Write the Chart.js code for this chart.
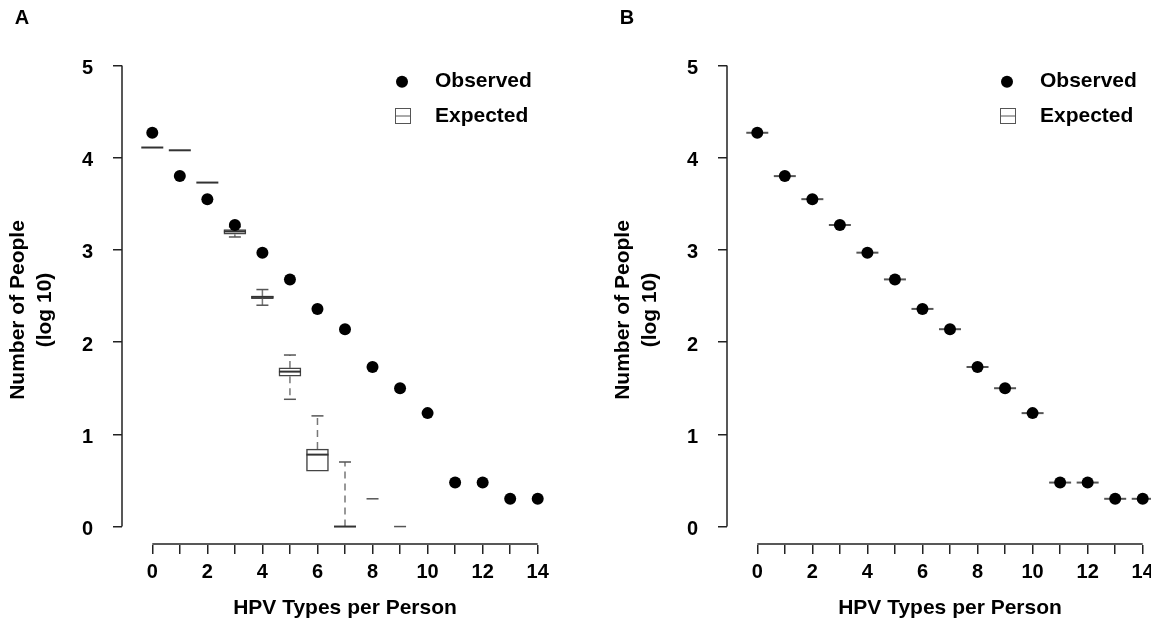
<!DOCTYPE html>
<html>
<head>
<meta charset="utf-8">
<script src="https://cdn.jsdelivr.net/npm/chart.js@4/dist/chart.umd.min.js"></script>
<style>
  body { margin: 0; background: #fff; }
  #wrap { position: relative; width: 1151px; height: 624px; overflow: hidden; }
  canvas { position: absolute; top: 0; }
  #panelA { left: 0; }
  #panelB { left: 605px; }
</style>
</head>
<body>
<div id="wrap">
  <canvas id="panelA" width="605" height="624"></canvas>
  <canvas id="panelB" width="605" height="624"></canvas>
</div>
<script>
// values (log10 of number of people)
const xTickValues = [0, 1, 2, 3, 4, 5, 6, 7, 8, 9, 10, 11, 12, 13, 14];
const yTickValues = [0, 1, 2, 3, 4, 5];
const hpvTypes = [0, 1, 2, 3, 4, 5, 6, 7, 8, 9, 10, 11, 12, 13, 14];
const observedLog10 = [4.27, 3.80, 3.55, 3.27, 2.97, 2.68, 2.36, 2.14, 1.73, 1.50, 1.23, 0.477, 0.477, 0.301, 0.301];

// panel A: expected (simulated) boxplots
const boxTypes = [0, 1, 2, 3, 4, 5, 6, 7];
const expLow = [4.11, 4.08, 3.73, 3.14, 2.40, 1.38, 0.60, 0];
const expQ1 = [4.11, 4.08, 3.73, 3.17, 2.47, 1.63, 0.60, 0];
const expMedian = [4.11, 4.08, 3.73, 3.20, 2.49, 1.68, 0.78, 0];
const expQ3 = [4.11, 4.08, 3.73, 3.22, 2.50, 1.72, 0.84, 0];
const expHigh = [4.11, 4.08, 3.73, 3.25, 2.57, 1.86, 1.20, 0.70];
const extraTypes = [8, 9];
const extraValues = [0.301, 0];

// panel B: expected boxes collapse onto the observed values
const expectedB = [4.27, 3.80, 3.55, 3.27, 2.97, 2.68, 2.36, 2.14, 1.73, 1.50, 1.23, 0.477, 0.477, 0.301, 0.301];

const FONT = 'Liberation Sans, Arial, sans-serif';
Chart.defaults.font.family = FONT;
Chart.defaults.font.weight = 'bold';
Chart.defaults.color = '#000';

function pts(xs, ys) {
  return xs.map((x, i) => ({ x: x, y: ys[i] }));
}

// axis lines, titles, legend and panel letter
function decorPlugin(letter) {
  return {
    id: 'decor',
    afterDraw(chart) {
      const ctx = chart.ctx;
      const xs = chart.scales.x, ys = chart.scales.y;
      const area = chart.chartArea;
      ctx.save();
      ctx.strokeStyle = '#222';
      ctx.lineWidth = 1.5;
      ctx.setLineDash([]);
      ctx.beginPath();
      ctx.moveTo(area.left, ys.getPixelForValue(5));
      ctx.lineTo(area.left, ys.getPixelForValue(0));
      ctx.moveTo(xs.getPixelForValue(0), area.bottom - 1);
      ctx.lineTo(xs.getPixelForValue(14), area.bottom - 1);
      ctx.stroke();

      ctx.fillStyle = '#000';
      ctx.font = 'bold 20px ' + FONT;
      ctx.textAlign = 'center';
      ctx.textBaseline = 'middle';
      ctx.fillText(letter, 22, 18);

      ctx.font = 'bold 21px ' + FONT;
      ctx.save();
      ctx.translate(18, 310);
      ctx.rotate(-Math.PI / 2);
      ctx.fillText('Number of People', 0, 0);
      ctx.restore();
      ctx.save();
      ctx.translate(45, 310);
      ctx.rotate(-Math.PI / 2);
      ctx.fillText('(log 10)', 0, 0);
      ctx.restore();

      // legend
      const lx = area.left + 280;
      ctx.beginPath();
      ctx.arc(lx, 81.7, 6, 0, Math.PI * 2);
      ctx.fill();
      ctx.strokeStyle = '#555';
      ctx.lineWidth = 1;
      ctx.strokeRect(lx - 6.5, 108.5, 15, 15);
      ctx.beginPath();
      ctx.moveTo(lx - 6.5, 116);
      ctx.lineTo(lx + 8.5, 116);
      ctx.stroke();
      ctx.textAlign = 'left';
      ctx.fillText('Observed', area.left + 313, 81.7);
      ctx.fillText('Expected', area.left + 313, 116.5);
      ctx.restore();
    }
  };
}

function baseOptions() {
  return {
    responsive: false,
    animation: false,
    events: [],
    layout: { padding: { top: 47, right: 37, left: 0, bottom: 0 } },
    plugins: { legend: { display: false }, tooltip: { enabled: false } },
    scales: {
      x: {
        type: 'linear', min: -1.1, max: 15.1, offset: false,
        afterBuildTicks: (s) => { s.ticks = xTickValues.map(v => ({ value: v })); },
        afterFit: (s) => { s.height = 79; },
        ticks: {
          padding: 6, maxRotation: 0, autoSkip: false,
          font: { size: 20, weight: 'bold' },
          callback: (v) => (v % 2 === 0 ? String(v) : '')
        },
        grid: { offset: false, drawOnChartArea: false, drawTicks: true, tickLength: 9, color: '#222', lineWidth: 1.5 },
        border: { display: false },
        title: { display: true, text: 'HPV Types per Person', font: { size: 21, weight: 'bold' }, padding: { top: 0, bottom: 3 } }
      },
      y: {
        type: 'linear', min: -0.2, max: 5.2,
        afterBuildTicks: (s) => { s.ticks = yTickValues.map(v => ({ value: v })); },
        afterFit: (s) => { s.width = 122; },
        ticks: { padding: 20, labelOffset: 3, font: { size: 20, weight: 'bold' } },
        grid: { offset: false, drawOnChartArea: false, drawTicks: true, tickLength: 9, color: '#222', lineWidth: 1.5 },
        border: { display: false }
      }
    }
  };
}

// ---- panel A ----
const whiskers = [];
const caps = [];
boxTypes.forEach((x, i) => {
  if (expHigh[i] > expQ3[i]) {
    whiskers.push({ x: x, y: expQ3[i] }, { x: x, y: expHigh[i] }, { x: x, y: null });
    caps.push({ x: x, y: expHigh[i] });
  }
  if (expLow[i] < expQ1[i]) {
    whiskers.push({ x: x, y: expQ1[i] }, { x: x, y: expLow[i] }, { x: x, y: null });
    caps.push({ x: x, y: expLow[i] });
  }
});

new Chart(document.getElementById('panelA'), {
  type: 'scatter',
  data: {
    datasets: [
      {
        type: 'scatter', label: 'Observed', order: 0,
        data: pts(hpvTypes, observedLog10),
        pointRadius: 6, pointBackgroundColor: '#000', pointBorderWidth: 0
      },
      {
        type: 'scatter', label: 'median', order: 1,
        data: pts(boxTypes, expMedian),
        pointStyle: 'line', pointRadius: 11, pointBorderColor: '#333', pointBorderWidth: 2
      },
      {
        type: 'scatter', label: 'caps', order: 2,
        data: caps.concat(pts(extraTypes, extraValues)),
        pointStyle: 'line', pointRadius: 6, pointBorderColor: '#555', pointBorderWidth: 1.5
      },
      {
        type: 'line', label: 'whiskers', order: 3,
        data: whiskers, spanGaps: false, pointRadius: 0,
        borderColor: '#777', borderWidth: 1.5, borderDash: [7, 5]
      },
      {
        type: 'bar', label: 'Expected', order: 4,
        data: boxTypes.map((x, i) => ({ x: x, y: [expQ1[i], expQ3[i]] })),
        barThickness: 22, backgroundColor: '#fff', borderColor: '#444',
        borderWidth: 1.5, borderSkipped: false
      }
    ]
  },
  options: baseOptions(),
  plugins: [decorPlugin('A')]
});

// ---- panel B ----
new Chart(document.getElementById('panelB'), {
  type: 'scatter',
  data: {
    datasets: [
      {
        type: 'scatter', label: 'Observed', order: 0,
        data: pts(hpvTypes, observedLog10),
        pointRadius: 6, pointBackgroundColor: '#000', pointBorderWidth: 0
      },
      {
        type: 'scatter', label: 'Expected', order: 1,
        data: pts(hpvTypes, expectedB),
        pointStyle: 'line', pointRadius: 11, pointBorderColor: '#555', pointBorderWidth: 2
      }
    ]
  },
  options: baseOptions(),
  plugins: [decorPlugin('B')]
});
</script>
</body>
</html>
